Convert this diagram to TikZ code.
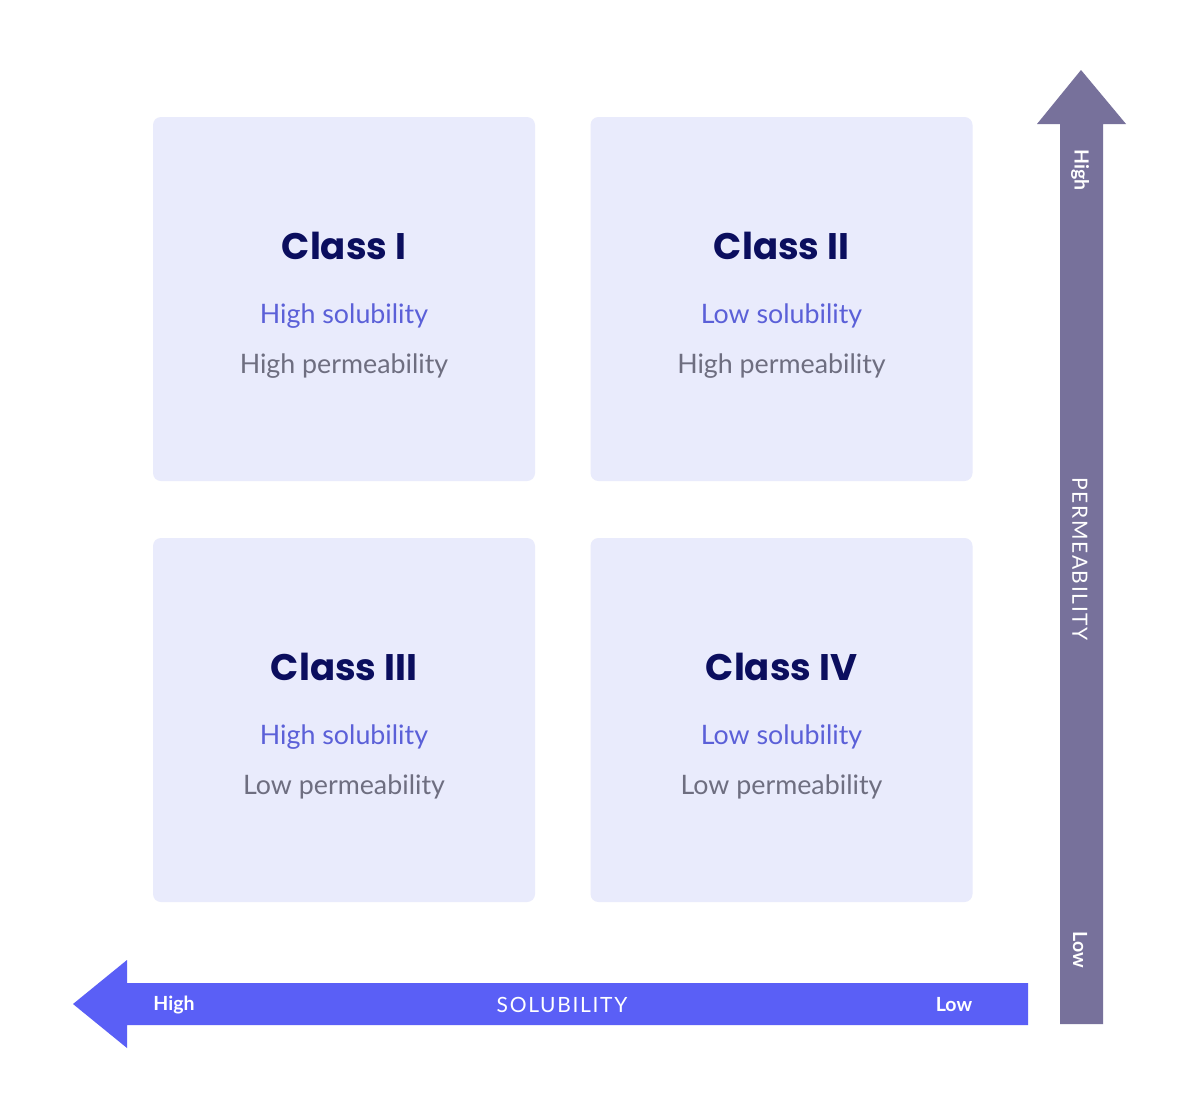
\documentclass[tikz,border=0pt]{standalone}
\usepackage{fontspec}
\setmainfont{Lato}
\newfontfamily\titlefont{Poppins}
\definecolor{boxfill}{HTML}{E9EBFC}
\definecolor{titlecol}{HTML}{0B0E5E}
\definecolor{solcol}{HTML}{5B60D8}
\definecolor{permcol}{HTML}{6E6E80}
\definecolor{varrow}{HTML}{77719B}
\definecolor{harrow}{HTML}{5A5FF6}
\begin{document}
\begin{tikzpicture}[x=1pt,y=-1pt,
  box/.style={fill=boxfill, draw=none, rounded corners=8pt, minimum width=382pt, minimum height=364pt, inner sep=0pt},
  ctitle/.style={anchor=base, text=titlecol, font=\titlefont\bfseries\fontsize{37}{40}\selectfont, inner sep=0pt},
  csol/.style={anchor=base, text=solcol, font=\fontsize{26.8}{29}\selectfont, inner sep=0pt},
  cperm/.style={anchor=base, text=permcol, font=\fontsize{26.8}{29}\selectfont, inner sep=0pt},
  axend/.style={text=white, font=\bfseries\fontsize{19.5}{21}\selectfont, inner sep=0pt},
  axname/.style={text=white, font=\fontsize{21}{23}\selectfont\addfontfeatures{LetterSpace=8}, inner sep=0pt}]
\path[use as bounding box, fill=white] (0,0) rectangle (1200,1117);

% boxes
\node[box] (c1) at (344,299) {};
\node[box] (c2) at (781.5,299) {};
\node[box] (c3) at (344,720) {};
\node[box] (c4) at (781.5,720) {};

% texts
\node[ctitle] (t1) at (344,259) {Class I};
\node[csol]   (s1) at (344,323) {High solubility};
\node[cperm]  (p1) at (344,373) {High permeability};
\node[ctitle] (t2) at (781.5,259) {Class II};
\node[csol]   (s2) at (781.5,323) {Low solubility};
\node[cperm]  (p2) at (781.5,373) {High permeability};
\node[ctitle] (t3) at (344,680) {Class III};
\node[csol]   (s3) at (344,744) {High solubility};
\node[cperm]  (p3) at (344,794) {Low permeability};
\node[ctitle] (t4) at (781.5,680) {Class IV};
\node[csol]   (s4) at (781.5,744) {Low solubility};
\node[cperm]  (p4) at (781.5,794) {Low permeability};

% vertical arrow (permeability)
\fill[varrow] (1060,1024) -- (1060,124) -- (1037,124) -- (1081,70) -- (1126,124) -- (1103,124) -- (1103,1024) -- cycle;
% horizontal arrow (solubility)
\fill[harrow] (1028,983) -- (127,983) -- (127,960) -- (73,1004) -- (127,1048) -- (127,1025) -- (1028,1025) -- cycle;

% axis labels
\node[axend, rotate=-90] (vh) at (1080,170) {High};
\node[axend, rotate=-90] (vl) at (1080,950) {Low};
\node[axname, rotate=-90] (vn) at (1080,559) {PERMEABILITY};
\node[axend] (hh) at (174,1005) {High};
\node[axend] (hl) at (954,1005) {Low};
\node[axname] (hn) at (562,1005) {SOLUBILITY};
\end{tikzpicture}
\end{document}
